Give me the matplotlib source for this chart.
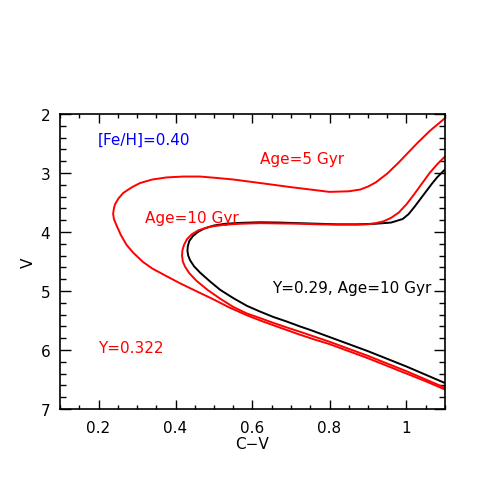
import matplotlib
matplotlib.use("Agg")
import matplotlib.pyplot as plt
from matplotlib.ticker import MultipleLocator, FixedLocator

# Y=0.29, Age=10 Gyr (black)
blk_cv = [1.10, 1.05, 1.00, 0.95, 0.90, 0.85, 0.80, 0.75, 0.723, 0.69, 0.654, 0.62, 0.585, 0.55,
          0.516, 0.49, 0.464, 0.448, 0.438, 0.433, 0.431, 0.432, 0.436, 0.445, 0.458, 0.475, 0.50,
          0.53, 0.57, 0.62, 0.67, 0.72, 0.77, 0.82, 0.87, 0.92, 0.96, 0.99, 1.005, 1.02, 1.035,
          1.05, 1.065, 1.08, 1.10]
blk_v = [6.56, 6.42, 6.28, 6.15, 6.02, 5.90, 5.78, 5.66, 5.60, 5.52, 5.44, 5.35, 5.25, 5.12,
         4.98, 4.84, 4.69, 4.58, 4.48, 4.40, 4.32, 4.24, 4.15, 4.07, 4.00, 3.94, 3.89,
         3.86, 3.845, 3.835, 3.84, 3.85, 3.86, 3.87, 3.87, 3.86, 3.84, 3.78, 3.70, 3.58, 3.45,
         3.32, 3.19, 3.07, 2.94]

# Y=0.322, Age=10 Gyr (red)
r10_cv = [1.10, 1.05, 1.00, 0.95, 0.90, 0.85, 0.80, 0.75, 0.723, 0.69, 0.654, 0.62, 0.585, 0.55,
          0.516, 0.485, 0.455, 0.436, 0.425, 0.419, 0.417, 0.418, 0.422, 0.43, 0.442, 0.46, 0.49,
          0.53, 0.57, 0.62, 0.67, 0.72, 0.77, 0.82, 0.87, 0.90, 0.92, 0.94, 0.96, 0.98, 1.00, 1.02,
          1.04, 1.06, 1.08, 1.10]
r10_v = [6.64, 6.50, 6.36, 6.23, 6.10, 5.98, 5.86, 5.75, 5.69, 5.62, 5.54, 5.46, 5.38, 5.27,
         5.13, 4.99, 4.83, 4.70, 4.59, 4.50, 4.40, 4.31, 4.22, 4.12, 4.04, 3.97, 3.91,
         3.875, 3.86, 3.85, 3.855, 3.86, 3.87, 3.875, 3.875, 3.87, 3.85, 3.82, 3.76, 3.67, 3.53,
         3.36, 3.18, 3.00, 2.85, 2.72]

# Y=0.322, Age=5 Gyr (red)
r5_cv = [1.10, 1.05, 1.00, 0.95, 0.90, 0.85, 0.80, 0.76, 0.723, 0.671, 0.62, 0.585, 0.54, 0.498,
         0.45, 0.412, 0.377, 0.34, 0.316, 0.29, 0.273, 0.258, 0.247, 0.240, 0.238, 0.240, 0.243,
         0.252, 0.264, 0.28, 0.29, 0.308, 0.34, 0.377, 0.42, 0.464, 0.50, 0.55, 0.62, 0.70, 0.75,
         0.80, 0.85, 0.88, 0.90, 0.92, 0.95, 0.98, 1.005, 1.03, 1.06, 1.08, 1.10]
r5_v = [6.67, 6.53, 6.40, 6.27, 6.14, 6.02, 5.90, 5.82, 5.74, 5.62, 5.50, 5.41, 5.28, 5.14,
        4.99, 4.87, 4.75, 4.62, 4.51, 4.35, 4.22, 4.05, 3.89, 3.78, 3.69, 3.60, 3.53,
        3.43, 3.34, 3.27, 3.23, 3.17, 3.11, 3.075, 3.06, 3.06, 3.08, 3.11, 3.17, 3.24, 3.28,
        3.32, 3.31, 3.28, 3.23, 3.16, 3.01, 2.82, 2.65, 2.48, 2.29, 2.18, 2.07]

x_ticks = [0.2, 0.4, 0.6, 0.8, 1.0]
x_tick_labels = ["0.2", "0.4", "0.6", "0.8", "1"]
y_ticks = [2, 3, 4, 5, 6, 7]
y_tick_labels = ["2", "3", "4", "5", "6", "7"]

plt.rcParams['font.family'] = ['DejaVu Sans']

fig = plt.figure(figsize=(4.85, 4.85), dpi=100)
ax = fig.add_axes([60/485, 75/485, 385/485, 295/485])

lw = 1.4
ax.plot(blk_cv, blk_v, color='black', lw=lw, solid_joinstyle='round')
ax.plot(r10_cv, r10_v, color='#ff0000', lw=lw, solid_joinstyle='round')
ax.plot(r5_cv, r5_v, color='#ff0000', lw=lw, solid_joinstyle='round')

ax.set_xlim(0.1, 1.1)
ax.set_ylim(7, 2)

ax.xaxis.set_major_locator(FixedLocator(x_ticks))
ax.set_xticklabels(x_tick_labels)
ax.xaxis.set_minor_locator(MultipleLocator(0.05))
ax.yaxis.set_major_locator(FixedLocator(y_ticks))
ax.set_yticklabels(y_tick_labels)
ax.yaxis.set_minor_locator(MultipleLocator(0.2))

ax.tick_params(which='both', direction='in', top=True, right=True, width=1.0, labelsize=11)
ax.tick_params(axis='x', which='major', length=6.5, pad=8)
ax.tick_params(axis='x', which='minor', length=3.2)
ax.tick_params(axis='y', which='major', length=7.7, pad=7)
ax.tick_params(axis='y', which='minor', length=4.3)
for s in ax.spines.values():
    s.set_linewidth(1.2)

ax.set_xlabel('C\u2212V', fontsize=11, labelpad=1)
ax.set_ylabel('V', fontsize=11, labelpad=3.5)

fs = 11
ax.text(0.199, 2.51, '[Fe/H]=0.40', color='#0000ff', fontsize=fs, ha='left', va='baseline')
ax.text(0.619, 2.83, 'Age=5 Gyr', color='#ff0000', fontsize=fs, ha='left', va='baseline')
ax.text(0.321, 3.83, 'Age=10 Gyr', color='#ff0000', fontsize=fs, ha='left', va='baseline')
ax.text(0.651, 5.02, 'Y=0.29, Age=10 Gyr', color='black', fontsize=fs, ha='left', va='baseline')
ax.text(0.199, 6.03, 'Y=0.322', color='#ff0000', fontsize=fs, ha='left', va='baseline')

fig.savefig('out.png', dpi=100)
